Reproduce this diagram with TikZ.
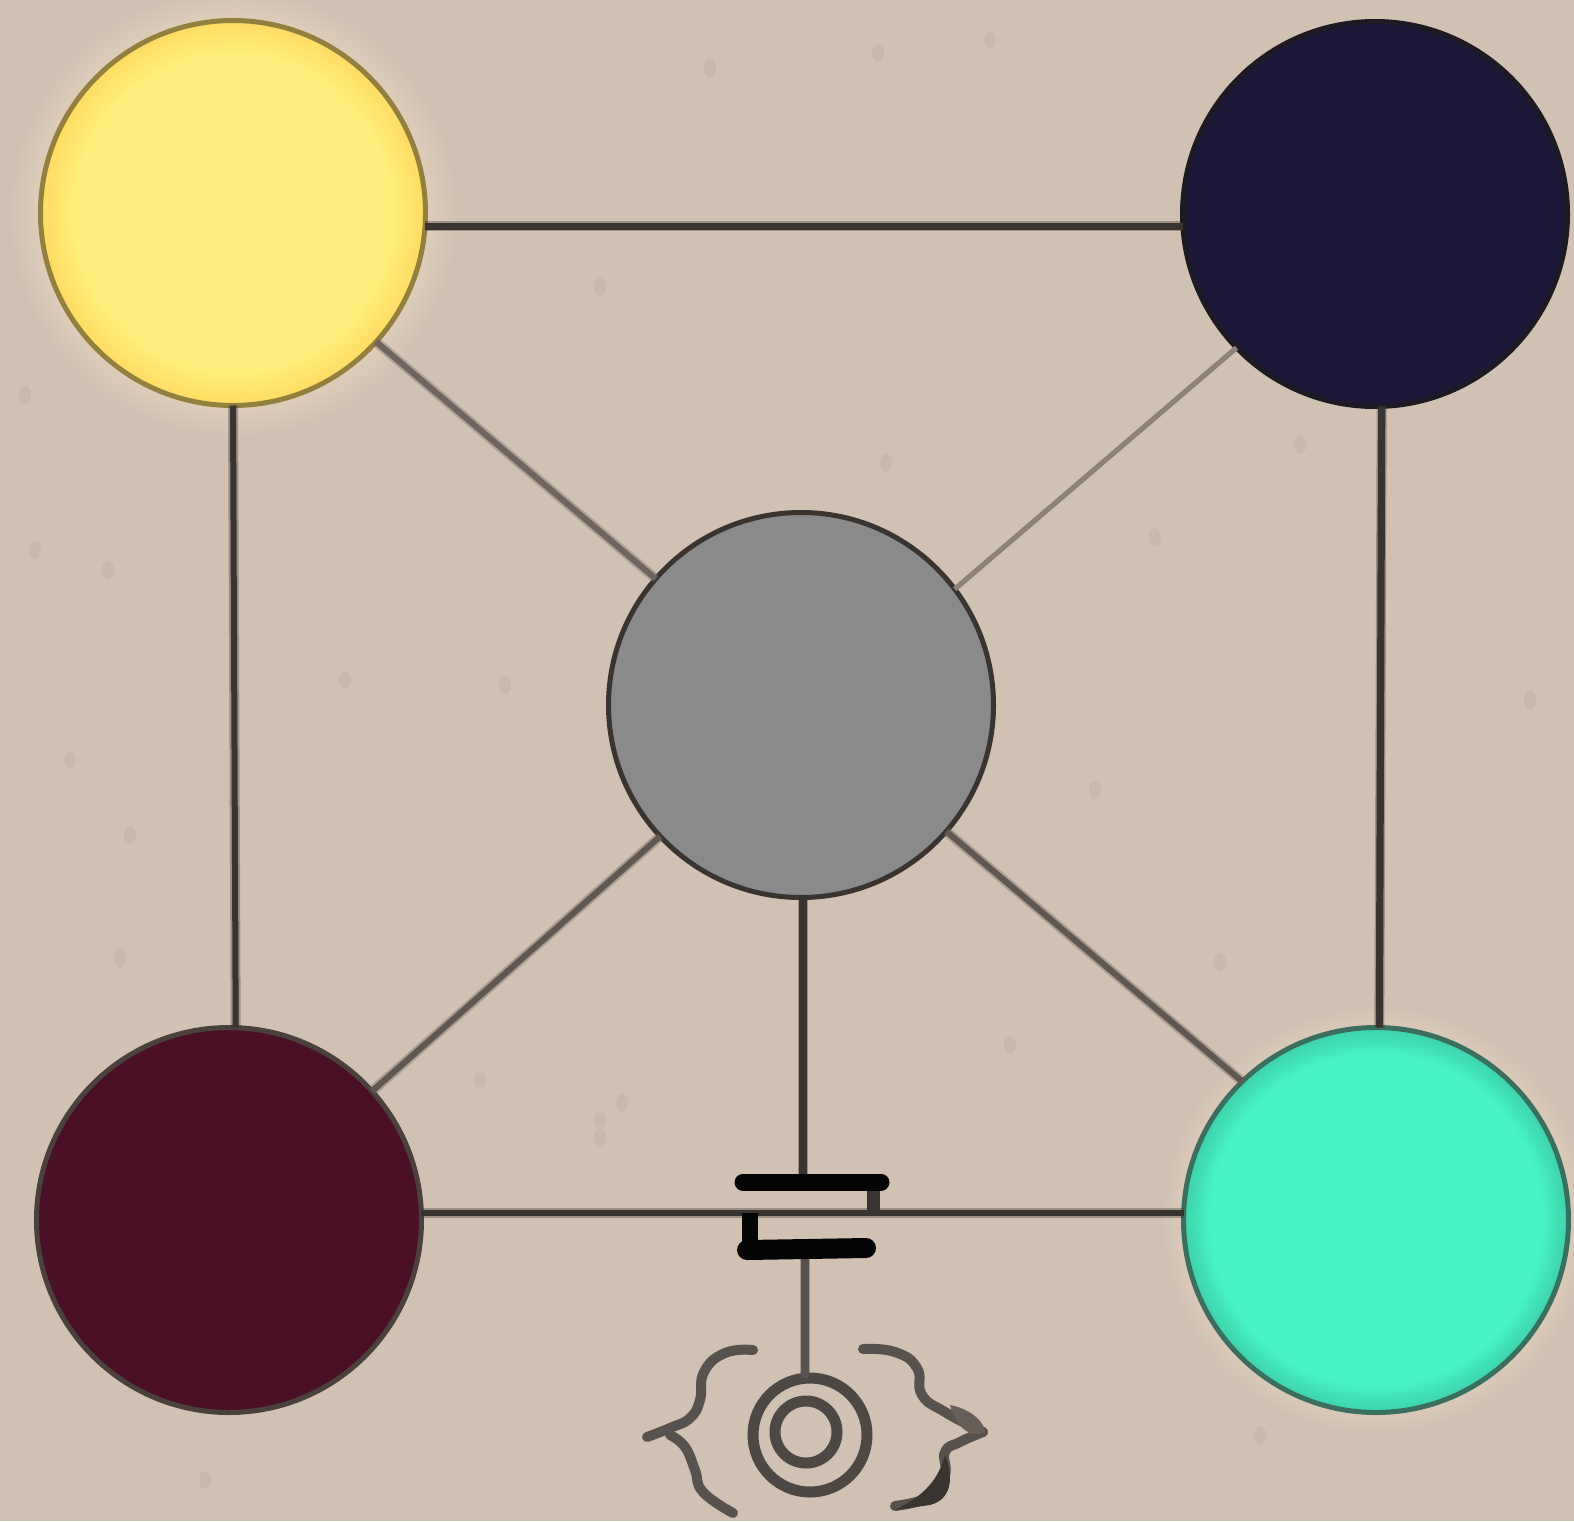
\documentclass[tikz,border=0pt]{standalone}
\pgfdeclareradialshading{sunfill}{\pgfpoint{0bp}{0bp}}{rgb(0bp)=(1,.933,.49);rgb(20.5bp)=(1,.933,.49);rgb(25bp)=(1,.86,.38);rgb(50bp)=(1,.86,.38)}
\pgfdeclareradialshading{mintfill}{\pgfpoint{0bp}{0bp}}{rgb(0bp)=(.28,.95,.78);rgb(21.5bp)=(.28,.95,.78);rgb(25bp)=(.24,.82,.67);rgb(50bp)=(.24,.82,.67)}
\pgfdeclareradialshading{halofill}{\pgfpoint{0bp}{0bp}}{rgb(0bp)=(.88,.81,.73);rgb(21bp)=(.88,.81,.73);rgb(25bp)=(.82,.757,.702);rgb(50bp)=(.82,.757,.702)}
\definecolor{paper}{HTML}{D1C1B3}
\definecolor{speck}{HTML}{C9B9AA}
\definecolor{ink}{HTML}{3A3430}
\definecolor{sunring}{HTML}{93803F}
\definecolor{navyfill}{HTML}{1D1839}
\definecolor{navyring}{HTML}{1E1A24}
\definecolor{grayfill}{HTML}{8A8A8A}
\definecolor{maroonfill}{HTML}{4A1126}
\definecolor{maroonring}{HTML}{4A403C}
\definecolor{mintring}{HTML}{3A6F5F}
\tikzset{
  x=0.5pt,y=-0.5pt,
  disc/.style={circle,inner sep=0pt,outer sep=0pt,line width=2.5pt,minimum size=192.5pt},
  halo/.style={circle,inner sep=0pt,shading=halofill,minimum size=#1},
  wire/.style={draw=#1,line width=3pt,preaction={draw=#1,opacity=.35,line width=5pt}},
  wire/.default=ink,
  plate/.style={draw=black!90!ink,line width=8.5pt,line cap=round},
  ringline/.style={draw=ink!90,line width=5.5pt},
  bracket/.style={draw=ink!85,line width=5pt,line cap=round}
}
\begin{document}
\begin{tikzpicture}
\useasboundingbox (0,0) rectangle (1574,1521);
\fill[paper] (0,0) rectangle (1574,1521);
\foreach \a/\b in {878/53,600/1137,622/1103,120/958,108/570,600/287,25/395,886/463,1220/962,1260/1435,205/1480,130/835,480/1080,1155/537,505/685,990/40,710/68,1300/445,35/550,1010/1045,600/1120,1530/700,70/760,1095/790,345/680}{
  \fill[speck] (\a,\b) ellipse [x radius=6,y radius=9];
}
\node[halo=225pt] (yellowglow) at (233,213) {};
\node[halo=215pt] (tealglow) at (1376,1220) {};
\node[disc,draw=sunring,shading=sunfill] (yellow) at (233,213) {};
\node[disc,draw=navyring,fill=navyfill] (navy) at (1375,214) {};
\node[disc,draw=ink,fill=grayfill] (gray) at (801,705) {};
\node[disc,draw=maroonring,fill=maroonfill] (maroon) at (229,1220) {};
\node[disc,draw=mintring,shading=mintfill] (teal) at (1376,1220) {};
\draw[wire,line width=3.4pt] (yellow.-4.2) -- (navy.west |- yellow.-4.2);
\draw[wire] (maroon.2.1) -- (teal.west |- maroon.2.1);
\draw[wire] (yellow.-90) -- (maroon.88.8);
\draw[wire,line width=3.6pt] (navy.-88.8) -- (teal.89.1);
\draw[wire=ink!65!paper] (yellow.-42.3) -- (gray.139.8);
\draw[draw=ink!45!paper,line width=2.6pt] (navy.224) -- (gray.37.3);
\draw[wire=ink!75!paper] (maroon.42.4) -- (gray.223.8);
\draw[wire=ink!75!paper] (teal.134.2) -- (gray.-41.5);
\coordinate (topL) at (743,1182);
\coordinate (topR) at (881,1182);
\coordinate (botL) at (747,1250);
\coordinate (botR) at (866,1248);
\coordinate (stemtop) at (803,1182);
\coordinate (stembot) at (805,1250);
\coordinate (tabR) at (873,1182);
\coordinate (tabRend) at (873,1214);
\coordinate (tabL) at (750,1250);
\coordinate (tabLend) at (750,1213);
\node[circle,inner sep=0pt,outer sep=0pt,minimum size=57pt,ringline] (outerring) at (810,1435) {};
\node[circle,inner sep=0pt,outer sep=0pt,minimum size=31pt,ringline] (innerring) at (806,1432) {};
\draw[wire,line width=3.6pt] (stemtop |- gray.south) -- (stemtop);
\draw[wire=ink!85,line width=3.6pt] (stembot) -- (stembot |- outerring.north);
\draw[line width=6.5pt,draw=ink] (tabR) -- (tabRend);
\draw[line width=8pt,draw=black!90!ink] (tabL) -- (tabLend);
\draw[plate] (topL) -- (topR);
\draw[plate,line width=10pt] (botL) -- (botR);
\draw[bracket] plot[smooth,tension=.8] coordinates {(753,1350) (725,1353) (704,1372) (700,1400) (690,1418) (670,1428) (647,1437)};
\draw[bracket] plot[smooth,tension=.8] coordinates {(670,1435) (685,1447) (695,1470) (703,1492) (733,1513)};
\draw[bracket] plot[smooth,tension=.8] coordinates {(863,1349) (895,1352) (917,1368) (922,1395) (945,1412) (975,1428) (983,1432)};
\draw[bracket] plot[smooth,tension=.8] coordinates {(983,1432) (960,1442) (945,1452) (945,1475) (932,1496) (895,1506)};
\fill[ink] (945,1455) .. controls (955,1480) and (950,1500) .. (930,1505) -- (895,1510) .. controls (925,1495) and (938,1480) .. cycle;
\fill[ink!70!paper] (950,1405) .. controls (975,1410) and (985,1425) .. (985,1432) .. controls (970,1440) and (955,1425) .. cycle;
\end{tikzpicture}
\end{document}
